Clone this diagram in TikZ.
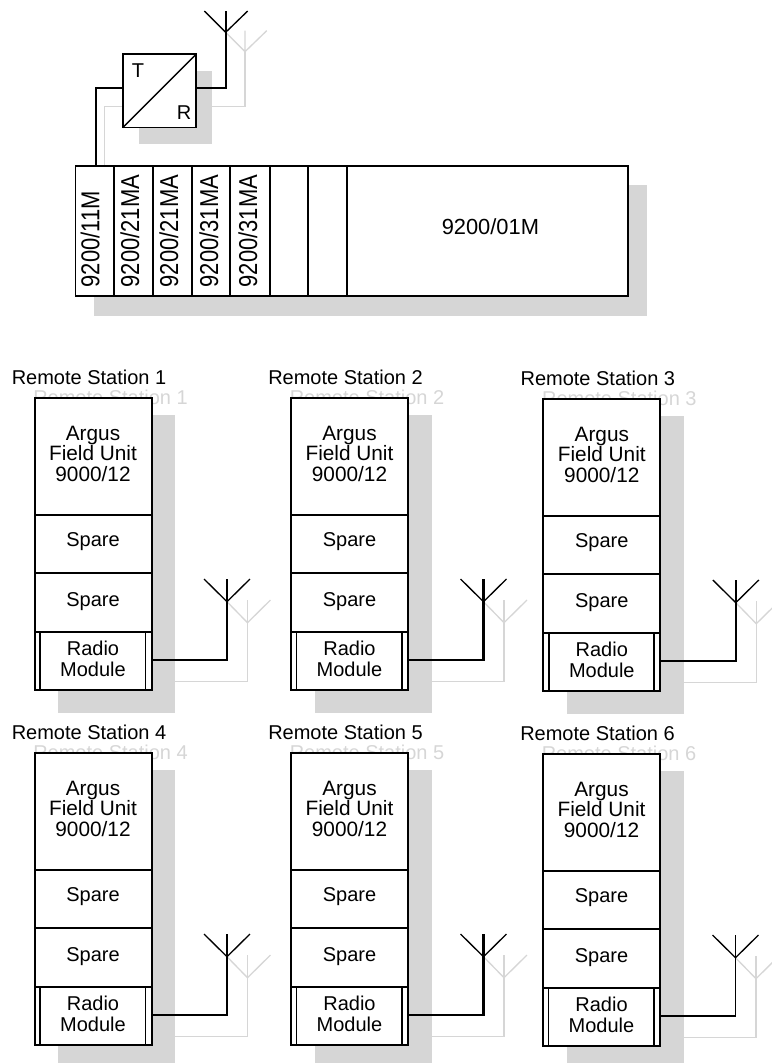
\documentclass[tikz,border=0pt]{standalone}
\usepackage{fontspec}
\setmainfont{Liberation Sans}
\newfontfamily\rackfont[FakeStretch=0.85]{Liberation Sans}
\usetikzlibrary{positioning}
\definecolor{shadegrey}{HTML}{D6D6D6}
\tikzset{
  shadow/.style={fill=shadegrey},
  wire/.style={line width=1.3pt,line join=miter},
  wiregrey/.style={line width=1pt,draw=shadegrey},
  arms/.style={line width=1pt},
  modbox/.style={draw,fill=white,rectangle,inner sep=0pt,outer sep=0pt,anchor=north west,line width=1.5pt},
  slot/.style={draw,fill=white,rectangle,inner sep=0pt,outer sep=0pt,anchor=north west,line width=1.25pt},
  lbl/.style={font=\fontsize{15}{15}\selectfont,inner sep=0pt,anchor=base west},
  lblmid/.style={font=\fontsize{15.6}{15.4}\selectfont,inner sep=0pt,align=center},
}
\begin{document}
\begin{tikzpicture}[x=0.75pt,y=-0.75pt]
  \useasboundingbox (0,0) rectangle (771,1063);
  % ---- master rack ----
  \fill[shadow] (94,185) rectangle (646.7,315.7);
  \fill[shadow] (139,70.7) rectangle (212,143.7);
  \coordinate (antg) at (245,51.7);
  \draw[wiregrey] (antg)--(245,30.7) (225.7,32.3)--(antg)--(266.7,30.7);
  \draw[wiregrey] (104.3,166)--(104.3,106.7)--(123,106.7) (196,106.7)--(245,106.7)--(antg);
  \coordinate (antb) at (225.7,32.3);
  \draw[wire] (antb)--(225.7,11);
  \draw[arms] (204.3,11)--(antb)--(247.7,11);
  \node[slot,minimum width=55pt,minimum height=55pt] (tr) at (122.7,54.3) {};
  \draw[arms] (tr.south west)--(tr.north east);
  \node[lbl] (tx) at (131.5,78) {T};
  \node[lbl] (rx) at (176.5,119) {R};
  \coordinate (trout) at (196,88);
  \draw[wire] (trout)--(225.7,88)--(antb);
  \foreach \i/\xa/\xb in {1/75.5/113.7,2/113.7/153,3/153/192,4/192/230,5/230/270,6/270/308,7/308/346.7,8/346.7/628}{
    \pgfmathsetmacro{\slotw}{(\xb-\xa)*0.75}
    \node[slot,minimum width=\slotw pt,minimum height=97.3pt] (slot\i) at (\xa,166) {};
  }
  \foreach \i/\bx/\t in {1/99.3/11M,2/139/21MA,3/178/21MA,4/218/31MA,5/257/31MA}{
    \node[lbl,font=\rackfont\fontsize{19.4}{19}\selectfont,rotate=90] (card\i) at (\bx,287.5) {9200/\t};
  }
  \node[lbl,font=\fontsize{16.4}{16}\selectfont] (mastercard) at (441.5,234.5) {9200/01M};
  \draw[wire] (95.7,166)--(95.7,88)--(123,88);
  % ---- remote stations ----
  \foreach \n/\ox/\oy/\w in {1/34.5/398/1.6,2/291/398/1.6,3/543.3/399/1.2,4/34.5/753/1.6,5/291/753/1.6,6/543/754/1.2}{
    \begin{scope}[shift={(\ox,\oy)}]
      \fill[shadow] (23.5,17) rectangle (140.5,315);
      \node[lbl,text=shadegrey] (ghost\n) at (-1.5,6) {Remote Station \n};
      \node[lbl] (title\n) at (-23,-14) {Remote Station \n};
      \coordinate (gjoin\n) at (213,224.7);
      \draw[wiregrey] (140.5,283.7)--(213,283.7)--(gjoin\n)--(213,202);
      \draw[wiregrey] (192.5,203.7)--(gjoin\n)--(236,202);
      \node[modbox,minimum width=87.75pt,minimum height=87.75pt] (unit\n) at (0,0) {};
      \node[modbox,minimum width=87.75pt,minimum height=43.5pt] (spareA\n) at (0,117) {};
      \node[modbox,minimum width=87.75pt,minimum height=44.25pt] (spareB\n) at (0,175) {};
      \node[modbox,minimum width=87.75pt,minimum height=43.5pt] (radio\n) at (0,234) {};
      \draw[line width=1.25pt] (5.5,234)--(5.5,292) (111,234)--(111,292);
      \node[lblmid] (unittxt\n) at (58.5,55.5) {Argus\\Field Unit\\9000/12};
      \node[lbl,anchor=base] (sparetxtA\n) at (58.5,148.7) {Spare};
      \node[lbl,anchor=base] (sparetxtB\n) at (58.5,208.7) {Spare};
      \node[lblmid,font=\fontsize{15}{15.4}\selectfont] (radiotxt\n) at (58.5,261) {Radio\\Module};
      \coordinate (rout\n) at (117,262);
      \coordinate (bjoin\n) at (192.5,203.7);
      \draw[line width=\w pt] (rout\n)--(192.5,262)--(bjoin\n)--(192.5,181);
      \draw[arms] (169.5,181)--(bjoin\n)--(215.5,181);
    \end{scope}
  }
\end{tikzpicture}
\end{document}
